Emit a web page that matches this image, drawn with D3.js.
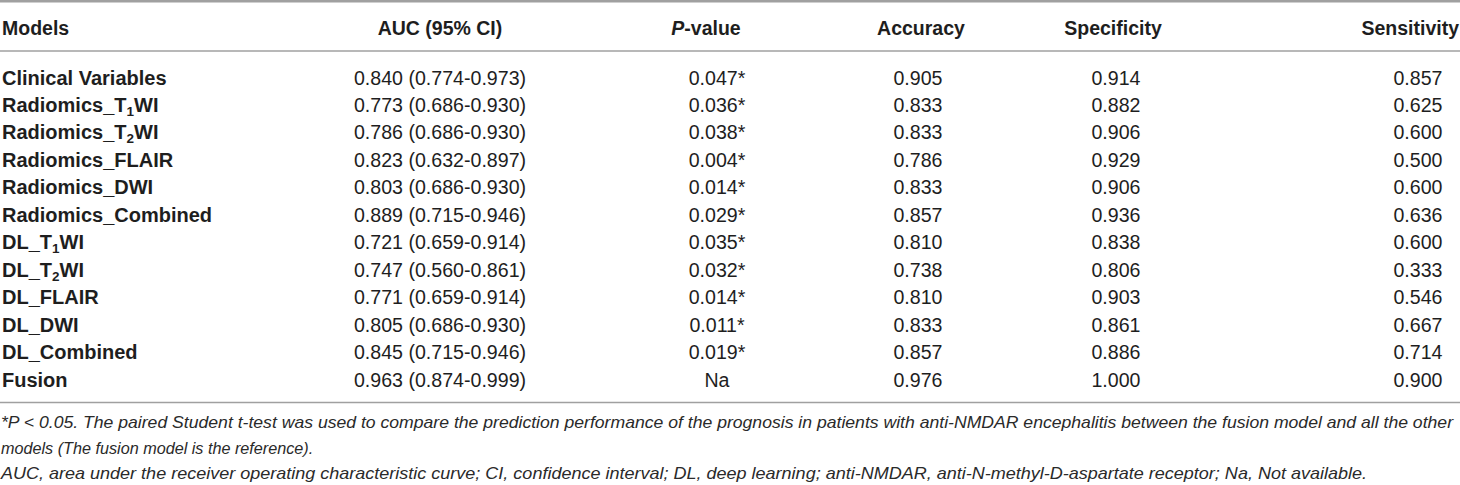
<!DOCTYPE html>
<html>
<head>
<meta charset="utf-8">
<script src="https://cdn.jsdelivr.net/npm/d3@7"></script>
<style>
  body { margin: 0; background: #fff; }
  svg { display: block; font-family: "Liberation Sans", Arial, sans-serif; }
</style>
</head>
<body>
<div id="chart"></div>
<script>
// table content
const headers = ["Models", "AUC (95% CI)", "P-value", "Accuracy", "Specificity", "Sensitivity"];
const models = [
    ["Clinical Variables"],
    ["Radiomics_T", "1", "WI"],
    ["Radiomics_T", "2", "WI"],
    ["Radiomics_FLAIR"],
    ["Radiomics_DWI"],
    ["Radiomics_Combined"],
    ["DL_T", "1", "WI"],
    ["DL_T", "2", "WI"],
    ["DL_FLAIR"],
    ["DL_DWI"],
    ["DL_Combined"],
    ["Fusion"]
];
const auc = ["0.840 (0.774-0.973)", "0.773 (0.686-0.930)", "0.786 (0.686-0.930)", "0.823 (0.632-0.897)",
    "0.803 (0.686-0.930)", "0.889 (0.715-0.946)", "0.721 (0.659-0.914)", "0.747 (0.560-0.861)",
    "0.771 (0.659-0.914)", "0.805 (0.686-0.930)", "0.845 (0.715-0.946)", "0.963 (0.874-0.999)"];
const pValue = ["0.047*", "0.036*", "0.038*", "0.004*", "0.014*", "0.029*", "0.035*", "0.032*",
    "0.014*", "0.011*", "0.019*", "Na"];
const accuracy = ["0.905", "0.833", "0.833", "0.786", "0.833", "0.857", "0.810", "0.738", "0.810", "0.833", "0.857", "0.976"];
const specificity = ["0.914", "0.882", "0.906", "0.929", "0.906", "0.936", "0.838", "0.806", "0.903", "0.861", "0.886", "1.000"];
const sensitivity = ["0.857", "0.625", "0.600", "0.500", "0.600", "0.636", "0.600", "0.333", "0.546", "0.667", "0.714", "0.900"];
const notes = [
    "*P < 0.05. The paired Student t-test was used to compare the prediction performance of the prognosis in patients with anti-NMDAR encephalitis between the fusion model and all the other",
    "models (The fusion model is the reference).",
    "AUC, area under the receiver operating characteristic curve; CI, confidence interval; DL, deep learning; anti-NMDAR, anti-N-methyl-D-aspartate receptor; Na, Not available."
];

const width = 1460, height = 485;
const ink = "#1e1e1e";
const rule = "#a0a0a0";

const svg = d3.select("#chart").append("svg")
    .attr("width", width)
    .attr("height", height)
    .attr("viewBox", [0, 0, width, height]);

// row baselines
const y = d3.scalePoint()
    .domain(d3.range(models.length))
    .range([84.5, 386.5]);

// column anchors: header x, cell x
const cols = [
    {head: 440, anchor: "middle", cell: 440, values: auc},
    {head: 706, anchor: "middle", cell: 717, values: pValue},
    {head: 921, anchor: "middle", cell: 918, values: accuracy},
    {head: 1113, anchor: "middle", cell: 1116, values: specificity},
    {head: 1459, anchor: "end", cell: 1418, values: sensitivity}
];

// rules
const lines = [{y: 1.2, w: 2.5}, {y: 51, w: 1.6}, {y: 402.5, w: 1.6}];
svg.selectAll("line.rule")
    .data(lines)
    .enter()
    .append("line")
    .attr("class", "rule")
    .attr("x1", 0)
    .attr("x2", width)
    .attr("y1", d => d.y)
    .attr("y2", d => d.y)
    .attr("stroke", rule)
    .attr("stroke-width", d => d.w);

// header
const head = svg.append("g")
    .attr("font-weight", 700)
    .attr("font-size", "19.5px")
    .attr("fill", ink);

head.append("text")
    .attr("x", 2)
    .attr("y", 34.5)
    .text(headers[0]);

head.selectAll("text.col")
    .data(cols)
    .enter()
    .append("text")
    .attr("class", "col")
    .attr("x", d => d.head)
    .attr("y", 34.5)
    .attr("text-anchor", d => d.anchor)
    .each(function(d, i) {
        const t = d3.select(this);
        const label = headers[i + 1];
        if (label.startsWith("P-")) {
            t.append("tspan").attr("font-style", "italic").text("P");
            t.append("tspan").text(label.slice(1));
        } else {
            t.text(label);
        }
    });

// model names
const names = svg.append("g")
    .attr("font-weight", 700)
    .attr("font-size", "20px")
    .attr("fill", ink);

names.selectAll("text")
    .data(models)
    .enter()
    .append("text")
    .attr("x", 2)
    .attr("y", (d, i) => y(i))
    .each(function(d) {
        const t = d3.select(this);
        t.append("tspan").text(d[0]);
        if (d.length > 1) {
            t.append("tspan").attr("font-size", "13.5px").attr("dy", 4).text(d[1]);
            t.append("tspan").attr("dy", -4).text(d[2]);
        }
    });

// values
const body = svg.append("g")
    .attr("font-size", "19.6px")
    .attr("fill", ink);

cols.forEach(c => {
    body.append("g")
        .selectAll("text")
        .data(c.values)
        .enter()
        .append("text")
        .attr("x", c.cell)
        .attr("y", (d, i) => y(i))
        .attr("text-anchor", "middle")
        .text(d => d);
});

// footnotes
const noteWidths = [1453, null, 1367];
const foot = svg.append("g")
    .attr("font-style", "italic")
    .attr("font-size", "16.2px")
    .attr("fill", "#2a2a2a");

foot.selectAll("text")
    .data(notes)
    .enter()
    .append("text")
    .attr("x", 1)
    .attr("y", (d, i) => 428 + i * 25.5)
    .text(d => d)
    .each(function(d, i) {
        if (noteWidths[i]) {
            d3.select(this)
                .attr("textLength", noteWidths[i] - 1)
                .attr("lengthAdjust", "spacingAndGlyphs");
        }
    });
</script>
</body>
</html>
